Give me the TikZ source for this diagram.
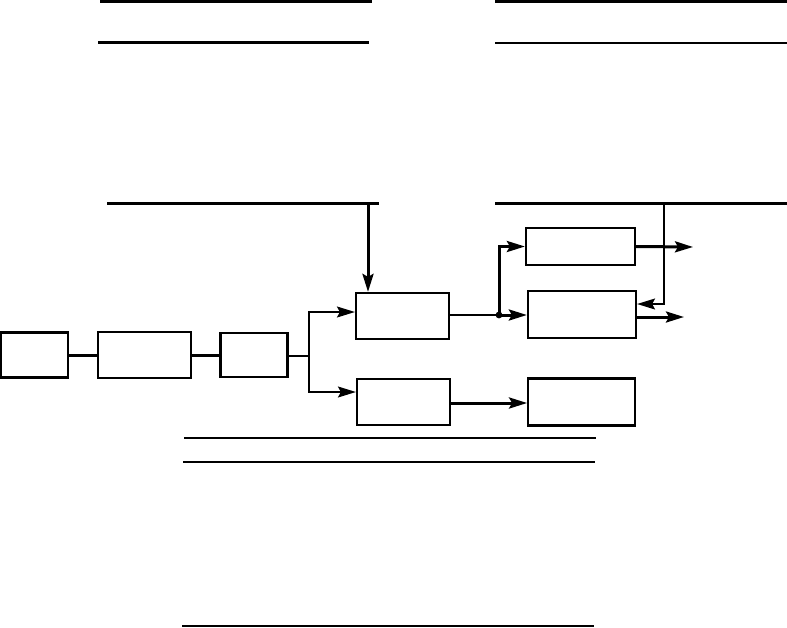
\documentclass[tikz,border=0pt]{standalone}
\usepackage{tikz}
\usetikzlibrary{arrows.meta, calc, positioning}

\begin{document}
\begin{tikzpicture}[
    x=1pt, y=-1pt,
    node distance=28pt,
    blk/.style={rectangle, draw=black, line width=2.2pt, inner sep=0pt},
    thk/.style={line width=3pt},
    thn/.style={line width=1.4pt},
    arr/.style={-{Stealth[length=18pt, width=11pt, inset=3pt]}},
    rule/.style={line width=1.5pt},
]
\useasboundingbox (0,0) rectangle (787,627);

% upper and lower rules
\draw[thk] (100,1) -- (372,1);
\draw[thk] (98,42) -- (369,42);
\draw[thk] (495,1) -- (787,1);
\draw[rule] (495,43) -- (787,43);
\draw[rule] (184,438) -- (596,438);
\draw[rule] (183,462) -- (595,462);
\draw[rule] (182,626) -- (594,626);

% blocks
\node[blk, minimum width=67pt, minimum height=45pt] (src) at (34.5,355) {};
\node[blk, minimum width=93pt, minimum height=46pt, right=28pt of src] (mod) {};
\node[blk, minimum width=67pt, minimum height=44pt, right=27pt of mod] (drv) {};
\node[blk, minimum width=93pt, minimum height=46pt] (ctl) at (402.5,316) {};
\node[blk, minimum width=93pt, minimum height=46pt] (aux) at (403.5,402) {};
\node[blk, minimum width=109pt, minimum height=37pt] (outA) at (580.5,246.5) {};
\node[blk, minimum width=108pt, minimum height=47pt] (outB) at (582,314.5) {};
\node[blk, minimum width=107pt, minimum height=47pt, right=76pt of aux] (load) {};

\coordinate (fbL) at (107,203);
\coordinate (fbR) at (379,203);
\coordinate (fbTap) at (368,203);
\coordinate (rtL) at (495,203);
\coordinate (rtR) at (787,203);
\coordinate (rtTap) at (664,203);
\coordinate (split) at (309,356);
\coordinate (dot) at (499,315);
\coordinate (endA) at (693,247);
\coordinate (endB) at (684,317);

\draw[thk] (src) -- (mod);
\draw[thk] (mod) -- (drv);
\draw[thn] (drv.east |- split) -- (split);
\draw[thn, arr] (split) |- ([yshift=4pt]ctl.west);
\draw[thn, arr] (split) |- ([yshift=10pt]aux.west);

\draw[thk] (fbL) -- (fbR);
\draw[thk, arr] (fbTap) -- (fbTap |- ctl.north);

\draw[thn] (ctl.east |- dot) -- (dot);
\fill (dot) circle (3.4pt);
\draw[thk, arr] (dot) -- (outB.west |- dot);
\draw[thk, arr] (dot) |- (outA.west);
\draw[thk, arr] (outA.east) -- (endA);
\draw[thk, arr] (outB.east |- endB) -- (endB);

\draw[thk] (rtL) -- (rtR);
\draw[thn, arr] (rtTap) |- ([yshift=10.5pt]outB.east);

\draw[thk, arr] (aux.east |- 0,403) -- (load.west |- 0,403);
\end{tikzpicture}
\end{document}
